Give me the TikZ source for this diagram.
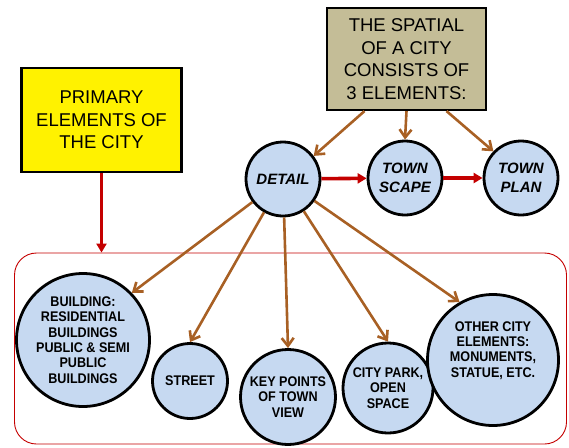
\documentclass[tikz,border=0pt]{standalone}
\usepackage{fontspec}
\setmainfont{Liberation Sans}
\newfontfamily\narrowfont[FakeStretch=0.9]{Liberation Sans}
\usetikzlibrary{arrows.meta,positioning}

\definecolor{boxtan}{HTML}{C4BD97}
\definecolor{circblue}{HTML}{C6D9F1}
\definecolor{arrbrown}{RGB}{168,96,36}
\definecolor{arrred}{RGB}{196,0,0}

\tikzset{
  headbox/.style={draw=black, line width=2.2pt, align=center, inner sep=0pt,
    font=\fontsize{18.5}{22.5}\selectfont},
  element/.style={circle, draw=black, line width=2.8pt, fill=circblue, align=center,
    inner sep=0pt, font=\narrowfont\bfseries\fontsize{14}{15.3}\selectfont},
  stage/.style={element, minimum size=74pt, font=\bfseries\itshape\fontsize{15}{19}\selectfont},
  brownarrow/.style={draw=arrbrown, line width=2.6pt, -{Straight Barb[length=8pt,width=12pt]}},
  redarrow/.style={draw=arrred, line width=3.6pt, -{Triangle[length=9pt,width=10pt]}}
}

\begin{document}
\begin{tikzpicture}[x=1pt,y=-1pt]
  \useasboundingbox (0,0) rectangle (569,447);

  % frame round the primary elements
  \node[draw=arrred, line width=0.9pt, rounded corners=22pt, minimum width=552pt,
    minimum height=191pt] (frame) at (290.5,348.5) {};

  % boxes at the top
  \node[headbox, fill=boxtan, minimum width=159pt, minimum height=102pt] (spatial) at (406.5,59)
    {THE SPATIAL\\OF A CITY\\CONSISTS OF\\3 ELEMENTS:};
  \node[headbox, fill=yellow, minimum width=160pt, minimum height=104pt] (primary) at (101.5,120)
    {PRIMARY\\ELEMENTS OF\\THE CITY};

  % the 3 elements
  \node[stage] (detail) at (283,179) {DETAIL};
  \node[stage] (scape) at (405,178) {TOWN\\SCAPE};
  \node[stage] (plan) at (521,178) {TOWN\\PLAN};

  % primary elements
  \node[element, minimum size=133pt] (building) at (83,340)
    {BUILDING:\\RESIDENTIAL\\BUILDINGS\\PUBLIC \& SEMI\\PUBLIC\\BUILDINGS};
  \node[element, minimum size=75pt] (street) at (190,381) {STREET};
  \node[element, minimum size=95pt] (keypts) at (288,397) {KEY POINTS\\OF TOWN\\VIEW};
  \node[element, minimum size=90pt] (park) at (388,388) {CITY PARK,\\OPEN\\SPACE};
  \node[element, minimum size=131pt] (other) at (493,360)
    {OTHER CITY\\ELEMENTS:\\MONUMENTS,\\STATUE, ETC.\\[6pt]};

  % connectors
  \draw[brownarrow] ([xshift=-42pt]spatial.south) -- (detail.37);
  \draw[brownarrow] (spatial.south) -- (scape.north);
  \draw[brownarrow] ([xshift=40pt]spatial.south) -- (plan.136);

  \draw[redarrow] (detail) -- (scape);
  \draw[redarrow] (scape) -- (plan);
  \draw[redarrow] (primary) -- (primary |- frame.north);

  \draw[brownarrow] (detail) -- (building.44);
  \draw[brownarrow] (detail) -- (street.north);
  \draw[brownarrow] (detail) -- (keypts.north);
  \draw[brownarrow] (detail) -- (park.north);
  \draw[brownarrow] (detail) -- (other.120);
\end{tikzpicture}
\end{document}
